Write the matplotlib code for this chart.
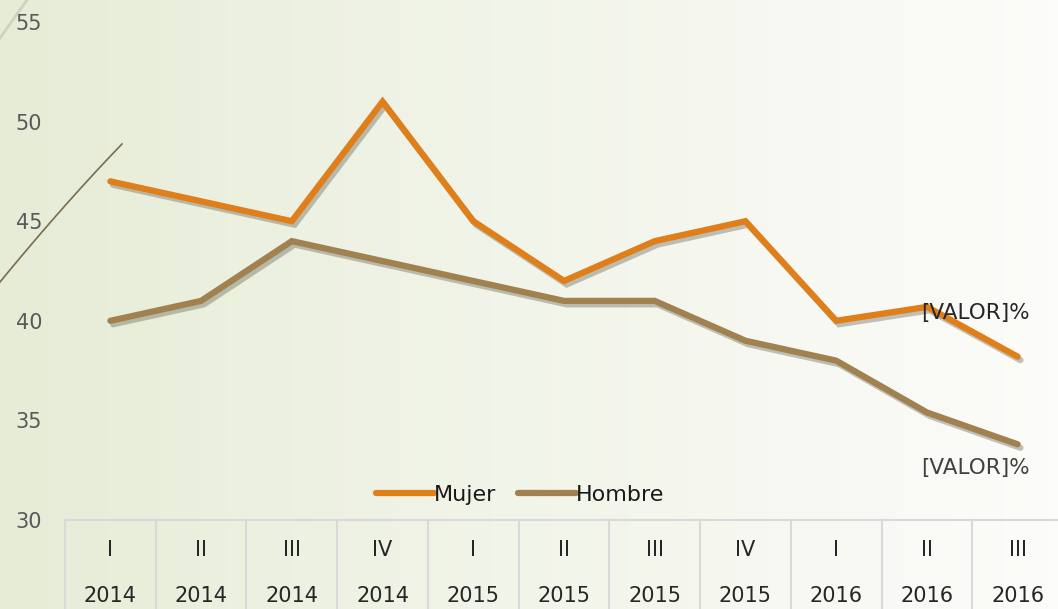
import numpy as np
import matplotlib
matplotlib.use("Agg")
from matplotlib import pyplot as plt
import matplotlib.patheffects as pe
import matplotlib.transforms as mtransforms
from matplotlib.lines import Line2D

plt.rcParams['font.family'] = ['DejaVu Sans']

quarters = ["I", "II", "III", "IV", "I", "II", "III", "IV", "I", "II", "III"]
years = ["2014", "2014", "2014", "2014", "2015", "2015", "2015", "2015", "2016", "2016", "2016"]
mujer = [47, 46, 45, 51, 45, 42, 44, 45, 40, 40.7, 38.2]
hombre = [40, 41, 44, 43, 42, 41, 41, 39, 38, 35.4, 33.8]
yticks = [30, 35, 40, 45, 50, 55]

W, H = 1058, 609
fig = plt.figure(figsize=(W / 100, H / 100), dpi=100)

# background gradient
bg = fig.add_axes([0, 0, 1, 1])
grad = np.linspace(0, 1, 256) ** 0.9
left_c = np.array([230, 236, 214]) / 255
right_c = np.array([252, 252, 250]) / 255
img = left_c[None, :] * (1 - grad[:, None]) + right_c[None, :] * grad[:, None]
bg.imshow(img[None, :, :], aspect='auto', extent=[0, 1, 0, 1])
bg.set_xlim(0, 1)
bg.set_ylim(0, 1)
bg.axis('off')

# decorative strokes on the left
t = np.linspace(0, 1, 50)
p0, p1, p2 = np.array([0, 282]), np.array([64, 204]), np.array([122, 144])
curve = ((1 - t) ** 2)[:, None] * p0 + (2 * (1 - t) * t)[:, None] * p1 + (t ** 2)[:, None] * p2
bg.plot(curve[:, 0] / W, 1 - curve[:, 1] / H, color='#7a6d4e', lw=1.2)
bg.plot([0, 27 / W], [1 - 38 / H, 1.0], color='#cfd3c0', lw=2)

ax = fig.add_axes([65 / W, (H - 520) / H, 998 / W, 498 / H])
ax.set_facecolor('none')
x = np.arange(len(quarters))

c_muj, c_hom = '#e07e1a', '#a0814f'
shadow = [pe.SimpleLineShadow(offset=(2, -2.5), shadow_color='#3a3a2a', alpha=0.3), pe.Normal()]
ax.plot(x, mujer, color=c_muj, lw=4.5, solid_capstyle='round', solid_joinstyle='miter',
        path_effects=shadow, zorder=3)
ax.plot(x, hombre, color=c_hom, lw=4.5, solid_capstyle='round', solid_joinstyle='miter',
        path_effects=shadow, zorder=3)

ax.text(x[-1] - 0.47, mujer[-2] - 0.3, "[VALOR]%", fontsize=15.5, color='#262626',
        ha='center', va='center', zorder=4)
ax.text(x[-1] - 0.47, 32.6, "[VALOR]%", fontsize=15.5, color='#404040',
        ha='center', va='center', zorder=4)

ax.set_xlim(-0.5, len(quarters) - 0.5)
ax.set_ylim(30, 55)
ax.set_yticks(yticks)
ax.tick_params(axis='y', length=0, pad=16.5, labelsize=15, labelcolor='#595959')
ax.set_xticks([])
for s in ['top', 'right', 'left']:
    ax.spines[s].set_visible(False)
ax.spines['bottom'].set_color('#d9d9d9')
ax.spines['bottom'].set_linewidth(1.5)

# category table under the axis
trans = mtransforms.blended_transform_factory(ax.transData, ax.transAxes)
for i in range(len(quarters) + 1):
    ax.plot([i - 0.5, i - 0.5], [0, -89 / 498], transform=trans, color='#d9d9d9',
            lw=1.5, clip_on=False)
for i in range(len(quarters)):
    ax.text(i, -30 / 498, quarters[i], transform=trans, ha='center', va='center',
            fontsize=15, color='#262626')
    ax.text(i, -76 / 498, years[i], transform=trans, ha='center', va='center',
            fontsize=15, color='#262626')

handles = [Line2D([], [], color=c_muj, lw=4.5, solid_capstyle='round'),
           Line2D([], [], color=c_hom, lw=4.5, solid_capstyle='round')]
leg = ax.legend(handles, ['Mujer', 'Hombre'], loc='center', bbox_to_anchor=(0.456, 0.05),
                ncol=2, frameon=False, fontsize=16, handlelength=2.6, handletextpad=0.0,
                columnspacing=1.0)
for t in leg.get_texts():
    t.set_color('#1a1a1a')

fig.savefig('out.png', dpi=100)
